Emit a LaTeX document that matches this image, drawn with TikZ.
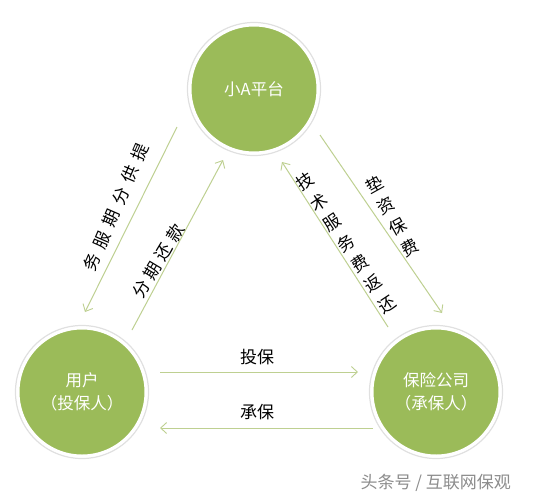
\documentclass[tikz,border=0pt]{standalone}
\usepackage{fontspec}
\setmainfont{Noto Sans CJK SC}
\usetikzlibrary{arrows.meta}
\definecolor{circgreen}{RGB}{155,187,89}
\definecolor{linegreen}{RGB}{190,208,145}
\definecolor{wmgray}{RGB}{140,140,140}
\tikzset{
  party/.style={circle, fill=circgreen, draw=white, line width=3pt, minimum size=128pt, inner sep=0pt, text=white, font=\fontsize{16.5}{23}\selectfont, align=center},
  shade ring/.style={draw=black!12, line width=1.2pt},
  flow/.style={draw=linegreen, line width=1pt, -{Straight Barb[length=6pt,width=11pt,line width=0.9pt]}},
  lbl/.style={font=\fontsize{17}{24.5}\selectfont, text=black, inner sep=0pt},
}
\begin{document}
\begin{tikzpicture}[x=1pt,y=-1pt]
\useasboundingbox[fill=white] (0,0) rectangle (538,498);
% shadows
\draw[shade ring] (254,89) circle (66.5);
\draw[shade ring] (82,392) circle (66.5);
\draw[shade ring] (436,392) circle (66.5);
% nodes
\node[party] (pf) at (254,89) {小A平台};
\node[party] (user) at (82,392) {用户\\（投保人）};
\node[party] (ins) at (436,392) {保险公司\\（承保人）};
% connector end points
\coordinate (a1s) at (177,127); \coordinate (a1e) at (85,312);
\coordinate (a2s) at (132,330); \coordinate (a2e) at (223,160);
\coordinate (a3s) at (388,327); \coordinate (a3e) at (282,162);
\coordinate (a4s) at (320,135); \coordinate (a4e) at (442,313);
\coordinate (a5s) at (160,372); \coordinate (a5e) at (358,372);
\coordinate (a6s) at (373,428); \coordinate (a6e) at (160,428);
\draw[flow] (a1s) -- (a1e);
\draw[flow] (a2s) -- (a2e);
\draw[flow] (a3s) -- (a3e);
\draw[flow] (a4s) -- (a4e);
\draw[flow] (a5s) -- (a5e);
\draw[flow] (a6s) -- (a6e);
% labels
\node[lbl, rotate=66.6] (l1) at (116,207) {务\hspace{7pt}服\hspace{7pt}期\hspace{7pt}分\hspace{7pt}供\hspace{7pt}提};
\node[lbl, rotate=59] (l2) at (158,261) {分\hspace{5pt}期\hspace{5pt}还\hspace{5pt}款};
\node[lbl, rotate=33.7, align=center] (l3) at (346,243) {技\\术\\服\\务\\费\\返\\还};
\node[lbl, rotate=29, align=center, font=\fontsize{17}{24}\selectfont] (l4) at (392,216) {垫\\资\\保\\费};
\node[lbl] (l5) at (257,357) {投保};
\node[lbl] (l6) at (257,412) {承保};
% watermark
\node[font=\fontsize{17}{20}\selectfont, text=wmgray, anchor=east, inner sep=0pt] (wm) at (511,483) {头条号 / 互联网保观};
\end{tikzpicture}
\end{document}
